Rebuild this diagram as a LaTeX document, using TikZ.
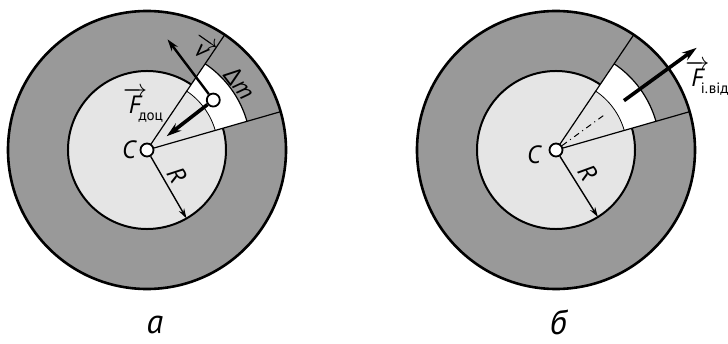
\documentclass[tikz,border=0pt]{standalone}
\usepackage{amsmath}
\usepackage{fontspec}
\setmainfont{PT Sans}
\newfontfamily\grkfont{Open Sans}
\usetikzlibrary{calc,arrows.meta}
\definecolor{ringA}{gray}{0.6}
\definecolor{discA}{gray}{0.9}
\newcommand{\vecl}[1]{\makebox[0.62em][l]{\ensuremath{\overrightarrow{\textit{#1}}}}}
\newcommand{\subl}[1]{\raisebox{-0.55ex}{\fontsize{7.5}{8}\selectfont\upshape #1}}

\begin{document}
\begin{tikzpicture}[x=0.5pt,y=0.5pt,>={Stealth[length=7.5pt,width=4.6pt]},
  lbl/.style={font=\fontsize{12.5}{14}\selectfont\itshape,inner sep=0pt},
  dot/.style={circle,draw,fill=white,line width=0.9pt,minimum size=6.5pt,inner sep=0pt}]
\useasboundingbox (0,0) rectangle (728,343);
\coordinate (CL) at (147,193);
\coordinate (CR) at (556,193);
% кільце, диск і виділений сектор
\foreach \c in {CL,CR}{
  \fill[ringA] (\c) circle (139);
  \fill[discA] (\c) circle (79);
  \fill[white] ($(\c)+(16:71)$) arc[start angle=16,end angle=56,radius=71]
    -- ($(\c)+(56:104)$) arc[start angle=56,end angle=16,radius=104] -- cycle;
  \draw[line width=1.3pt] (\c) circle (139);
  \draw[line width=1pt] ($(\c)+(56:79)$) arc[start angle=56,end angle=376,radius=79];
  \draw[line width=0.6pt] ($(\c)+(16:139)$) -- (\c) -- ($(\c)+(56:139)$);
  \draw[line width=0.4pt] ($(\c)+(16:71)$) arc[start angle=16,end angle=56,radius=71];
  \draw[line width=0.6pt] ($(\c)+(16:104)$) arc[start angle=16,end angle=56,radius=104];
}
% рисунок а
\node[dot] (cL) at (CL) {};
\node[dot] (mL) at ($(CL)+(37:83)$) {};
\coordinate (vL) at ($(mL)+(127:76)$);
\coordinate (fL) at ($(CL)+(35:24)$);
\coordinate (rL) at ($(CL)+(-60:79)$);
\draw[->,line width=1.2pt,>={Stealth[length=6pt,width=3.8pt]}] (mL) -- (vL);
\draw[->,line width=1.8pt] (mL) -- (fL);
\draw[->,line width=0.7pt,>={Stealth[length=5pt,width=3pt]}] (cL) -- (rL);
\node[lbl] (tCL) at ($(CL)+(-18,0)$) {C};
\node[lbl] (tF) at ($(CL)+(-4,45)$) {\vecl{F}\subl{доц}};
\node[lbl,rotate=-35] (tv) at ($(CL)+(53,104)$) {\vecl{v}};
\node[lbl,rotate=-53] (tm) at ($(CL)+(93,67)$) {{\grkfont\upshape Δ}\textit{m}};
\node[lbl,rotate=-60] (tRL) at ($(CL)+(30,-25)$) {R};
% рисунок б
\node[dot] (cR) at (CR) {};
\coordinate (dR) at ($(CR)+(36:62)$);
\coordinate (aR) at ($(CR)+(36:84)$);
\coordinate (bR) at ($(CR)+(36:174)$);
\coordinate (rR) at ($(CR)+(-58:79)$);
\draw[line width=0.5pt,dash dot] (cR) -- (dR);
\draw[->,line width=1.8pt] (aR) -- (bR);
\draw[->,line width=0.7pt,>={Stealth[length=5pt,width=3pt]}] (cR) -- (rR);
\node[lbl] (tCR) at ($(CR)+(-22,-5)$) {C};
\node[lbl,rotate=-58] (tRR) at ($(CR)+(32,-23)$) {R};
\node[lbl,anchor=west] (tFi) at ($(CR)+(129,72)$) {\vecl{F}\subl{і.від}};
% підписи
\node[font=\fontsize{17}{19}\selectfont\itshape,anchor=base] (la) at (155,10) {а};
\node[font=\fontsize{17}{19}\selectfont\itshape,anchor=base] (lb) at (558,9) {б};
\end{tikzpicture}
\end{document}
